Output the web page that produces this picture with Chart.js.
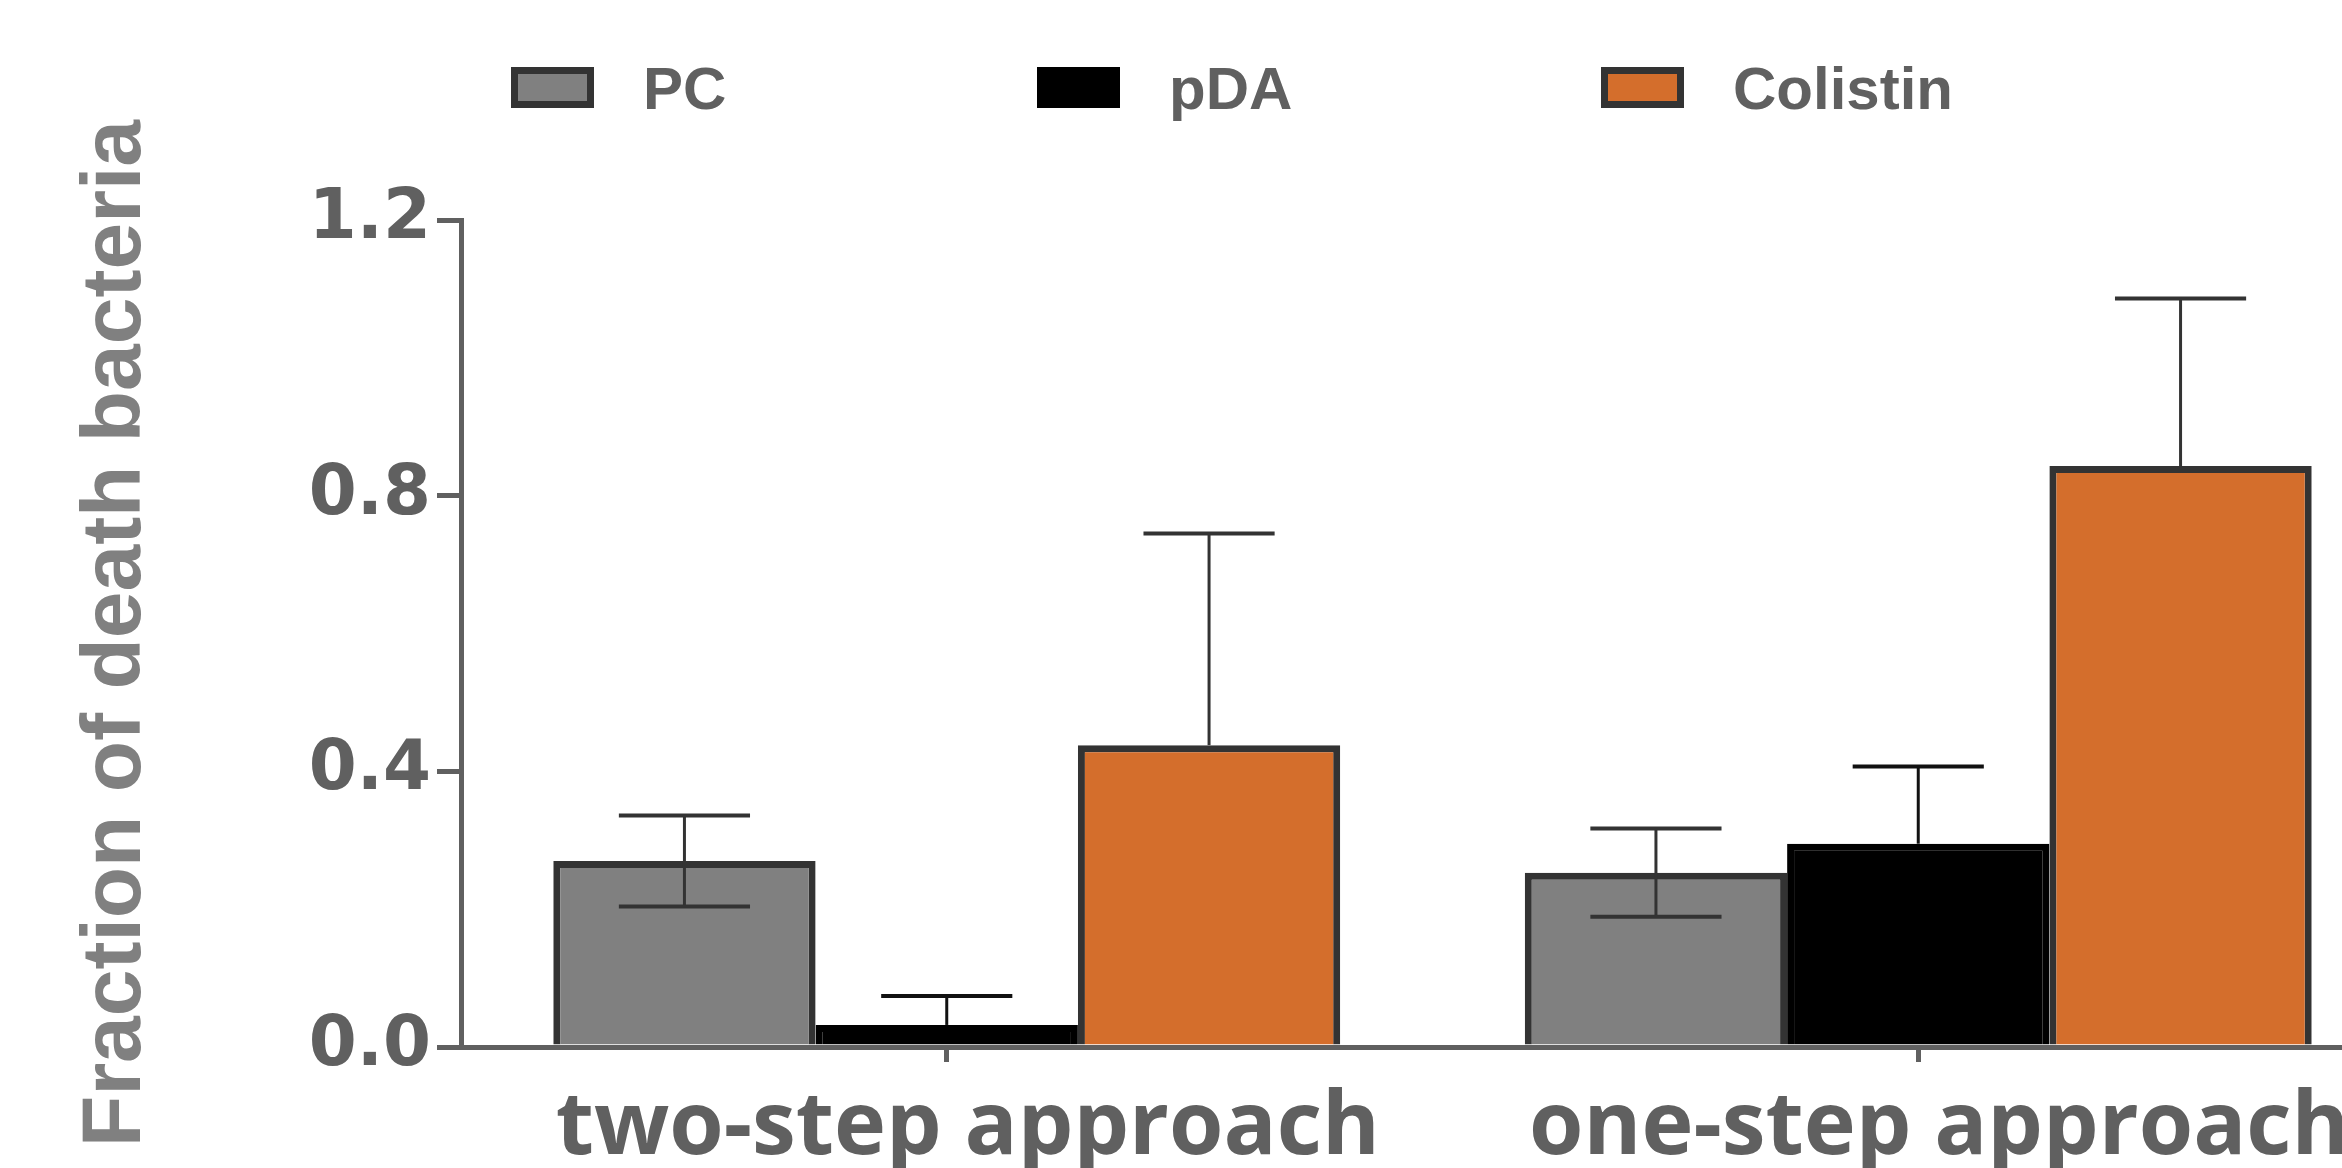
<!DOCTYPE html>
<html>
<head>
<meta charset="utf-8">
<script src="https://cdn.jsdelivr.net/npm/chart.js@4.4.0/dist/chart.umd.min.js"></script>
<style>
html, body { margin: 0; padding: 0; background: #fff; overflow: hidden; }
</style>
</head>
<body>
<canvas id="myChart" width="2404" height="1168"></canvas>
<script>
var categories = ['two-step approach', 'one-step approach'];
var pcValues = [0.27, 0.253];
var pcErrors = [0.066, 0.064];
var pdaValues = [0.032, 0.295];
var pdaErrors = [0.042, 0.112];
var colistinValues = [0.438, 0.843];
var colistinErrors = [0.307, 0.243];
var yTicks = [0, 0.4, 0.8, 1.2];

// error bars: stem from the bar top (or from mean - err when both sides are shown)
var errorBars = {
  id: 'errorBars',
  afterDatasetsDraw: function(chart) {
    var ctx = chart.ctx;
    var y = chart.scales.y;
    chart.data.datasets.forEach(function(ds, i) {
      var meta = chart.getDatasetMeta(i);
      meta.data.forEach(function(bar, j) {
        var v = ds.data[j], e = ds.errors[j];
        var top = y.getPixelForValue(v + e);
        var low = ds.bothErrors ? y.getPixelForValue(v - e) : bar.y;
        var half = bar.width / 4;
        ctx.save();
        ctx.strokeStyle = ds.errorColor;
        ctx.lineWidth = 3;
        ctx.beginPath();
        ctx.moveTo(bar.x, top);
        ctx.lineTo(bar.x, low);
        ctx.stroke();
        ctx.lineWidth = 4;
        ctx.beginPath();
        ctx.moveTo(bar.x - half, top);
        ctx.lineTo(bar.x + half, top);
        if (ds.bothErrors) {
          ctx.moveTo(bar.x - half, low);
          ctx.lineTo(bar.x + half, low);
        }
        ctx.stroke();
        ctx.restore();
      });
    });
  }
};

// legend drawn by hand, the built-in one can't space items this far apart
var legendRow = {
  id: 'legendRow',
  afterDraw: function(chart) {
    var ctx = chart.ctx;
    var xs = [511, 1037, 1601];
    chart.data.datasets.forEach(function(ds, i) {
      var x = xs[i], top = 67, w = 83, h = 41, b = ds.borderWidth;
      ctx.save();
      ctx.fillStyle = ds.borderColor;
      ctx.fillRect(x, top, w, h);
      ctx.fillStyle = ds.backgroundColor;
      ctx.fillRect(x + b, top + b, w - 2 * b, h - 2 * b);
      ctx.fillStyle = '#606060';
      ctx.font = 'bold 60px "Liberation Sans", Arial, sans-serif';
      ctx.textBaseline = 'alphabetic';
      ctx.fillText(ds.label, x + 132, 109);
      ctx.restore();
    });
  }
};

var ctx = document.getElementById('myChart').getContext('2d');
var myChart = new Chart(ctx, {
  type: 'bar',
  data: {
    labels: categories,
    datasets: [
      {
        label: 'PC',
        data: pcValues,
        errors: pcErrors,
        bothErrors: true,
        errorColor: '#333333',
        backgroundColor: '#808080',
        borderColor: '#333333',
        borderWidth: 7
      },
      {
        label: 'pDA',
        data: pdaValues,
        errors: pdaErrors,
        bothErrors: false,
        errorColor: '#111111',
        backgroundColor: '#000000',
        borderColor: '#000000',
        borderWidth: 7
      },
      {
        label: 'Colistin',
        data: colistinValues,
        errors: colistinErrors,
        bothErrors: false,
        errorColor: '#333333',
        backgroundColor: '#D46E2C',
        borderColor: '#333333',
        borderWidth: 7
      }
    ]
  },
  options: {
    responsive: false,
    animation: false,
    categoryPercentage: 0.81,
    barPercentage: 1.0,
    layout: { padding: { top: 220, left: 0, right: 0, bottom: 0 } },
    plugins: {
      legend: { display: false },
      tooltip: { enabled: false }
    },
    scales: {
      x: {
        afterFit: function(axis) { axis.height = 121; },
        grid: {
          offset: false,
          drawOnChartArea: false,
          tickLength: 15,
          color: '#606060',
          lineWidth: 5
        },
        border: { display: true, color: '#606060', width: 5 },
        ticks: {
          color: '#606060',
          padding: 23,
          labelOffset: 21,
          font: { family: '"Open Sans"', size: 88, weight: 'bold', lineHeight: 1 }
        }
      },
      y: {
        min: 0,
        max: 1.2,
        afterFit: function(axis) { axis.width = 461; },
        afterBuildTicks: function(axis) {
          axis.ticks = yTicks.map(function(v) { return { value: v }; });
        },
        grid: {
          drawOnChartArea: false,
          tickLength: 24,
          color: '#606060',
          lineWidth: 5
        },
        border: { display: true, color: '#606060', width: 5 },
        ticks: {
          color: '#606060',
          padding: 6,
          font: { family: '"DejaVu Sans"', size: 69, weight: 'bold' },
          callback: function(v) { return v.toFixed(1); }
        },
        title: {
          display: true,
          text: 'Fraction of death bacteria',
          color: '#808080',
          padding: { top: 66, bottom: 0 },
          font: { family: '"Liberation Sans"', size: 84, weight: 'bold' }
        }
      }
    }
  },
  plugins: [errorBars, legendRow]
});
</script>
</body>
</html>
